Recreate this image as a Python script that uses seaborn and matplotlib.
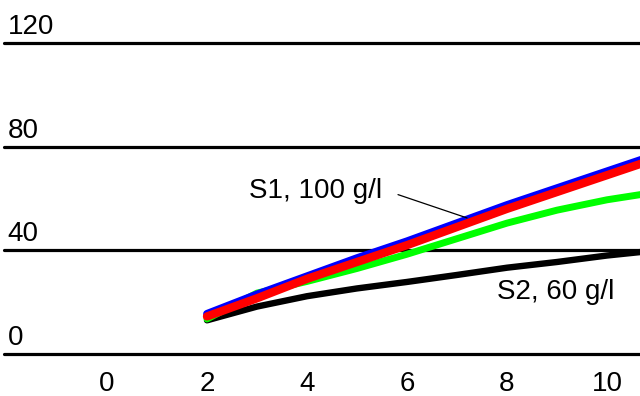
import matplotlib
matplotlib.use("Agg")
from matplotlib import pyplot as plt
import pandas as pd
import seaborn as sns

# time axis and the four curves
x_vals = [2, 3, 4, 5, 6, 7, 8, 9, 10, 11]
blue = [15.5, 23.0, 30.0, 37.0, 43.5, 50.5, 57.5, 64.0, 70.5, 77.0]
red = [14.5, 21.5, 29.0, 35.5, 42.0, 49.0, 56.0, 62.5, 69.0, 75.5]
green = [13.5, 23.5, 28.0, 33.0, 38.5, 44.5, 50.5, 55.5, 59.5, 62.5]
black = [13.0, 18.3, 22.3, 25.3, 27.8, 30.5, 33.3, 35.5, 38.0, 40.0]

x_ticks = [0, 2, 4, 6, 8, 10]
y_ticks = [0, 40, 80, 120]

df = pd.DataFrame({"x": x_vals, "blue": blue, "red": red,
                   "green": green, "black": black})

sns.set_style("white")
plt.rcParams['font.family'] = ['Liberation Sans', 'DejaVu Sans']
plt.rcParams['text.color'] = 'black'
plt.rcParams['xtick.color'] = 'black'

fig = plt.figure(figsize=(6.4, 3.96), dpi=100)
ax = fig.add_axes([0.00625, 1 - 354 / 396, 0.99375, (354 - 43) / 396])

colors = {"black": "#000000", "green": "#00ff00", "blue": "#0000ff", "red": "#ff0000"}
for ycol, lw in [("black", 4.6), ("green", 5.0), ("blue", 5.6), ("red", 6.0)]:
    sns.lineplot(data=df, x="x", y=ycol, color=colors[ycol], lw=lw, ax=ax,
                 solid_capstyle="round", solid_joinstyle="round")

for yv in y_ticks:
    ax.axhline(yv, color="black", lw=2.3, clip_on=False, zorder=1)
    ax.text(0.006, yv + 1.2, str(yv), transform=ax.get_yaxis_transform(),
            ha="left", va="bottom", fontsize=20)

ax.set_xlim(-2.06, 10.66)
ax.set_ylim(0, 120)
ax.set_xticks(x_ticks)
ax.set_xticklabels([str(t) for t in x_ticks], fontsize=20)
ax.set_yticks([])
ax.tick_params(axis="x", length=0, pad=12)
ax.set_xlabel("")
ax.set_ylabel("")
for s in ax.spines.values():
    s.set_visible(False)

ax.text(5.5, 63.0, "S1, 100 g/l", fontsize=20, ha="right", va="center")
ax.plot([5.82, 7.2], [61.5, 52.5], color="black", lw=0.9)
ax.text(7.8, 24.0, "S2, 60 g/l", fontsize=20, ha="left", va="center")

fig.savefig("out.png", dpi=100)
